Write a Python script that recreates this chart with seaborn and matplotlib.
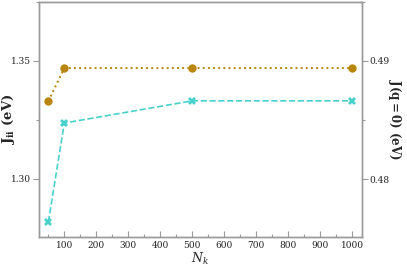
import matplotlib
matplotlib.use("Agg")
import matplotlib.pyplot as plt
import seaborn as sns
import pandas as pd
from matplotlib.ticker import MultipleLocator

nk_jii = [50, 100, 500, 1000]
jii = [1.2818, 1.3237, 1.3331, 1.3331]
nk_jq = [50, 100, 500, 1000]
jq0 = [0.4866, 0.4894, 0.4894, 0.4894]

sns.set_style("ticks")
plt.rcParams['font.family'] = ['DejaVu Serif']
plt.rcParams['mathtext.fontset'] = 'dejavuserif'

fig = plt.figure(figsize=(4.07, 2.67), dpi=100)
ax = fig.add_axes([0.096, 0.112, 0.793, 0.881])
ax2 = ax.twinx()

df1 = pd.DataFrame({"Nk": nk_jii, "J": jii})
df2 = pd.DataFrame({"Nk": nk_jq, "J": jq0})

sns.lineplot(data=df1, x="Nk", y="J", ax=ax, color="#48d1cc", linestyle="--",
             marker="X", markersize=6, markeredgewidth=0, linewidth=1.2)
sns.lineplot(data=df2, x="Nk", y="J", ax=ax2, color="#b8860b", linestyle=":",
             marker="o", markersize=6, markeredgewidth=0, linewidth=1.4)

ax.set_xlim(21, 1030)
ax.set_ylim(1.2754, 1.375)
ax2.set_ylim(0.4751, 0.495)

ax.set_xticks([100, 200, 300, 400, 500, 600, 700, 800, 900, 1000])
ax.xaxis.set_minor_locator(MultipleLocator(50))
ax.yaxis.set_major_locator(MultipleLocator(0.05))
ax.yaxis.set_minor_locator(MultipleLocator(0.025))
ax2.yaxis.set_major_locator(MultipleLocator(0.01))
ax2.yaxis.set_minor_locator(MultipleLocator(0.005))
ax.yaxis.set_major_formatter(matplotlib.ticker.FormatStrFormatter('%.2f'))
ax2.yaxis.set_major_formatter(matplotlib.ticker.FormatStrFormatter('%.2f'))

gray = "#999999"
for a in (ax, ax2):
    for s in a.spines.values():
        s.set_color(gray)
        s.set_linewidth(1.0)
    a.tick_params(which='both', colors=gray, labelcolor='#222222', labelsize=6.5, pad=1.5)
    a.tick_params(which='major', length=4, width=0.8)
    a.tick_params(which='minor', length=2.5, width=0.8)
ax.tick_params(axis='x', which='both', direction='in', pad=3)

ax.set_xlabel(r"$N_k$", fontsize=9)
ax.xaxis.set_label_coords(0.5, -0.058)
ax.set_ylabel(r"$\mathbf{J_{ii}}$ (eV)", fontsize=9.5, fontweight='bold')
ax.yaxis.set_label_coords(-0.068, 0.5)
ax2.set_ylabel(r"$\mathbf{J(q=0)}$ (eV)", fontsize=8.5, fontweight='bold', rotation=270, labelpad=10)

fig.savefig("out.png", dpi=100)
